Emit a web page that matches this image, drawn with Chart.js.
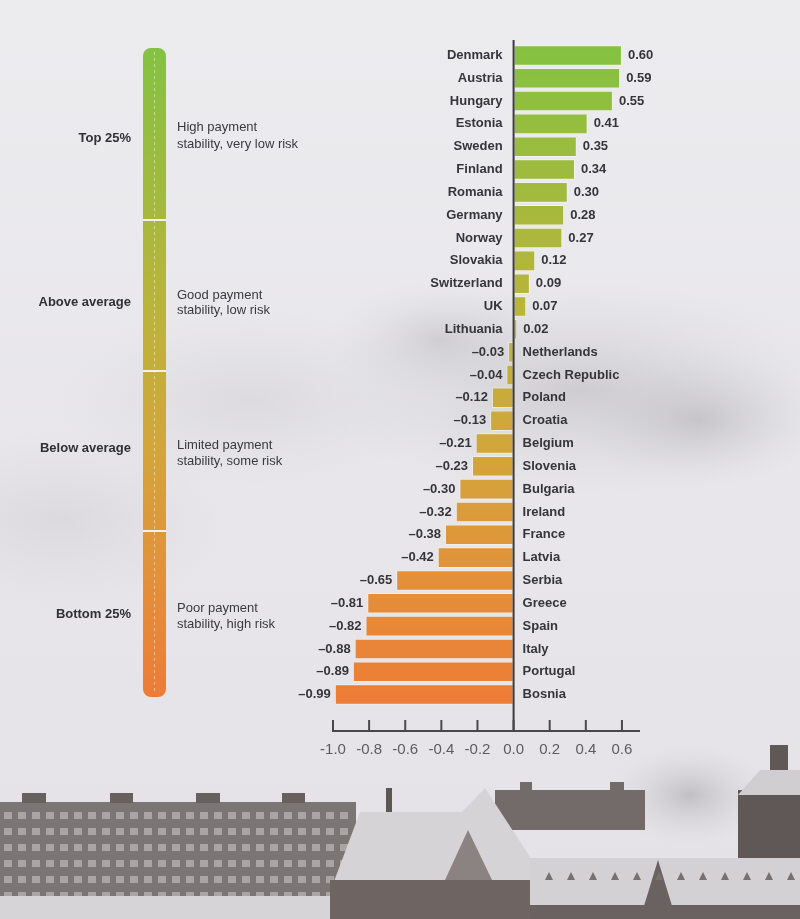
<!DOCTYPE html>
<html>
<head>
<meta charset="utf-8">
<script src="https://cdn.jsdelivr.net/npm/chart.js@4.4.1/dist/chart.umd.min.js"></script>
<style>
  html, body { margin: 0; padding: 0; background: #e9e7eb; }
  #wrap { position: relative; width: 800px; height: 919px; }
</style>
</head>
<body>
<div id="wrap"><canvas id="chart" width="800" height="919"></canvas></div>
<script>
// Payment stability index by country
const countries = ['Denmark', 'Austria', 'Hungary', 'Estonia', 'Sweden', 'Finland', 'Romania',
    'Germany', 'Norway', 'Slovakia', 'Switzerland', 'UK', 'Lithuania', 'Netherlands',
    'Czech Republic', 'Poland', 'Croatia', 'Belgium', 'Slovenia', 'Bulgaria', 'Ireland',
    'France', 'Latvia', 'Serbia', 'Greece', 'Spain', 'Italy', 'Portugal', 'Bosnia'];
const scores = [0.60, 0.59, 0.55, 0.41, 0.35, 0.34, 0.30, 0.28, 0.27, 0.12, 0.09, 0.07, 0.02,
    -0.03, -0.04, -0.12, -0.13, -0.21, -0.23, -0.30, -0.32, -0.38, -0.42, -0.65, -0.81,
    -0.82, -0.88, -0.89, -0.99];
const xTicks = [-1.0, -0.8, -0.6, -0.4, -0.2, 0.0, 0.2, 0.4, 0.6];
const bandNames = ['Top 25%', 'Above average', 'Below average', 'Bottom 25%'];
const bandNotes = [
    ['High payment', 'stability, very low risk'],
    ['Good payment', 'stability, low risk'],
    ['Limited payment', 'stability, some risk'],
    ['Poor payment', 'stability, high risk']
];

const FONT = '"Liberation Sans", Arial, Helvetica, sans-serif';
const colorStops = [[0, '#84c241'], [0.42, '#bdb33a'], [0.62, '#d3a53a'], [0.8, '#e2923a'], [1, '#ed7b36']];

function makeGradient(ctx, y0, y1) {
    const g = ctx.createLinearGradient(0, y0, 0, y1);
    colorStops.forEach(s => g.addColorStop(s[0], s[1]));
    return g;
}

// photo-like backdrop: sky, clouds, rooftops
const backdrop = {
    id: 'backdrop',
    beforeDraw(chart) {
        const c = chart.ctx;
        c.save();
        const sky = c.createLinearGradient(0, 0, 0, 919);
        sky.addColorStop(0, '#ecebee');
        sky.addColorStop(1, '#e4e2e6');
        c.fillStyle = sky;
        c.fillRect(0, 0, 800, 919);

        const cloud = (x, y, rx, ry, col) => {
            c.save();
            c.translate(x, y);
            c.scale(1, ry / rx);
            const g = c.createRadialGradient(0, 0, 0, 0, 0, rx);
            g.addColorStop(0, col);
            g.addColorStop(1, 'rgba(200,200,205,0)');
            c.fillStyle = g;
            c.fillRect(-rx, -rx, rx * 2, rx * 2);
            c.restore();
        };
        cloud(580, 390, 260, 110, 'rgba(165,163,168,0.4)');
        cloud(700, 420, 130, 70, 'rgba(140,138,144,0.3)');
        cloud(440, 340, 110, 60, 'rgba(160,158,164,0.3)');
        cloud(250, 400, 200, 90, 'rgba(190,188,193,0.3)');
        cloud(60, 520, 170, 90, 'rgba(190,188,193,0.3)');

        // trees at right
        cloud(690, 795, 80, 50, 'rgba(150,148,150,0.45)');

        // left apartment block
        c.fillStyle = '#7b7573';
        c.fillRect(0, 802, 356, 117);
        c.fillStyle = '#67605e';
        [[22, 46], [110, 133], [196, 220], [282, 305]].forEach(p => c.fillRect(p[0], 793, p[1] - p[0], 10));
        c.fillStyle = '#a9a5a5';
        for (let y = 812; y < 900; y += 16) {
            for (let x = 4; x < 350; x += 14) c.fillRect(x, y, 8, 7);
        }
        c.fillStyle = '#d6d4d6';
        c.fillRect(0, 896, 330, 23);

        // back building in the middle
        c.fillStyle = '#726b6a';
        c.fillRect(495, 790, 150, 40);
        c.fillRect(520, 782, 12, 10);
        c.fillRect(610, 782, 14, 10);

        // snowy middle roof and tower
        c.fillStyle = '#d5d3d6';
        c.beginPath();
        c.moveTo(333, 884); c.lineTo(360, 812); c.lineTo(462, 812);
        c.lineTo(485, 788); c.lineTo(545, 880); c.closePath();
        c.fill();
        c.fillStyle = '#6e6462';
        c.fillRect(330, 880, 205, 39);
        c.fillStyle = '#8a8382';
        c.beginPath();
        c.moveTo(445, 880); c.lineTo(468, 830); c.lineTo(492, 880); c.closePath();
        c.fill();
        c.fillStyle = '#5d5655';
        c.fillRect(386, 788, 6, 24);

        // right houses
        c.fillStyle = '#5f5857';
        c.fillRect(738, 790, 62, 80);
        c.fillRect(770, 745, 18, 45);
        c.fillStyle = '#d0ced1';
        c.beginPath();
        c.moveTo(738, 795); c.lineTo(760, 770); c.lineTo(800, 770); c.lineTo(800, 795); c.closePath();
        c.fill();
        c.fillStyle = '#d3d1d4';
        c.fillRect(530, 858, 270, 61);
        c.fillStyle = '#6a6261';
        c.fillRect(530, 905, 270, 14);
        c.beginPath();
        c.moveTo(640, 919); c.lineTo(658, 860); c.lineTo(676, 919); c.closePath();
        c.fill();
        c.fillStyle = '#77706f';
        for (let x = 545; x < 795; x += 22) {
            c.beginPath();
            c.moveTo(x, 880); c.lineTo(x + 4, 872); c.lineTo(x + 8, 880); c.closePath();
            c.fill();
        }
        c.restore();
    }
};

// legend bar on the left, zero line, bottom axis and labels
const decorations = {
    id: 'decorations',
    afterDatasetsDraw(chart) {
        const c = chart.ctx;
        const xs = chart.scales.x;
        const zero = xs.getPixelForValue(0);
        const axisY = 731;
        c.save();

        // left scale bar
        const bx = 143, bw = 23, top = 48, bottom = 697;
        c.fillStyle = makeGradient(c, top, bottom);
        c.beginPath();
        c.roundRect(bx, top, bw, bottom - top, 8);
        c.fill();
        c.strokeStyle = 'rgba(255,255,255,0.45)';
        c.lineWidth = 1;
        c.setLineDash([3, 3]);
        c.beginPath();
        c.moveTo(bx + bw / 2, top + 4); c.lineTo(bx + bw / 2, bottom - 4);
        c.stroke();
        c.setLineDash([]);
        c.fillStyle = '#f2f1f0';
        [220, 371, 531].forEach(y => c.fillRect(bx, y - 1, bw, 2));

        const bandY = [138, 302, 448, 614];
        const noteY = [[127, 144], [295, 310], [445, 461], [608, 624]];
        c.textBaseline = 'middle';
        c.font = 'bold 13px ' + FONT;
        c.fillStyle = '#303036';
        c.textAlign = 'right';
        bandNames.forEach((n, i) => c.fillText(n, 131, bandY[i]));
        c.font = '13px ' + FONT;
        c.fillStyle = '#3a3a40';
        c.textAlign = 'left';
        bandNotes.forEach((lines, i) => lines.forEach((t, j) => c.fillText(t, 177, noteY[i][j])));

        // bar labels
        const meta = chart.getDatasetMeta(0);
        c.font = 'bold 13px ' + FONT;
        c.fillStyle = '#35353b';
        meta.data.forEach((bar, i) => {
            const v = scores[i];
            const txt = (v < 0 ? '\u2013' : '') + Math.abs(v).toFixed(2);
            if (v >= 0) {
                c.textAlign = 'left';
                c.fillText(txt, bar.x + 6, bar.y);
                c.textAlign = 'right';
                c.fillText(countries[i], zero - 11, bar.y);
            } else {
                c.textAlign = 'right';
                c.fillText(txt, bar.x - 4, bar.y);
                c.textAlign = 'left';
                c.fillText(countries[i], zero + 9, bar.y);
            }
        });

        // zero line
        c.strokeStyle = '#3c3c40';
        c.lineWidth = 2;
        c.beginPath();
        c.moveTo(zero, 40); c.lineTo(zero, axisY);
        c.stroke();

        // bottom axis with upward ticks
        c.strokeStyle = '#48484c';
        c.lineWidth = 2;
        c.beginPath();
        c.moveTo(xs.getPixelForValue(-1.0) - 1, axisY);
        c.lineTo(xs.right, axisY);
        c.stroke();
        xs.ticks.forEach(t => {
            const x = xs.getPixelForValue(t.value);
            c.beginPath();
            c.moveTo(x, axisY - 11); c.lineTo(x, axisY);
            c.stroke();
        });
        c.restore();
    }
};

new Chart(document.getElementById('chart'), {
    type: 'bar',
    data: {
        labels: countries,
        datasets: [{
            data: scores,
            backgroundColor: ctx => {
                const area = ctx.chart.chartArea;
                if (!area) return '#c0b03a';
                return makeGradient(ctx.chart.ctx, area.top, area.bottom);
            },
            borderColor: 'rgba(250,248,235,0.55)',
            borderWidth: 1,
            borderSkipped: false,
            barPercentage: 1,
            categoryPercentage: 0.9
        }]
    },
    plugins: [backdrop, decorations],
    options: {
        indexAxis: 'y',
        responsive: false,
        animation: false,
        layout: { padding: { left: 333, right: 160, top: 44, bottom: 125 } },
        plugins: { legend: { display: false }, tooltip: { enabled: false } },
        scales: {
            y: { display: false },
            x: {
                min: -1.0,
                max: 0.7,
                afterBuildTicks: s => { s.ticks = xTicks.map(v => ({ value: v })); },
                grid: { display: false, drawTicks: false },
                border: { display: false },
                ticks: {
                    padding: 35,
                    color: '#5c5c60',
                    font: { family: FONT, size: 15 },
                    callback: v => Number(v).toFixed(1)
                }
            }
        }
    }
});
</script>
</body>
</html>
